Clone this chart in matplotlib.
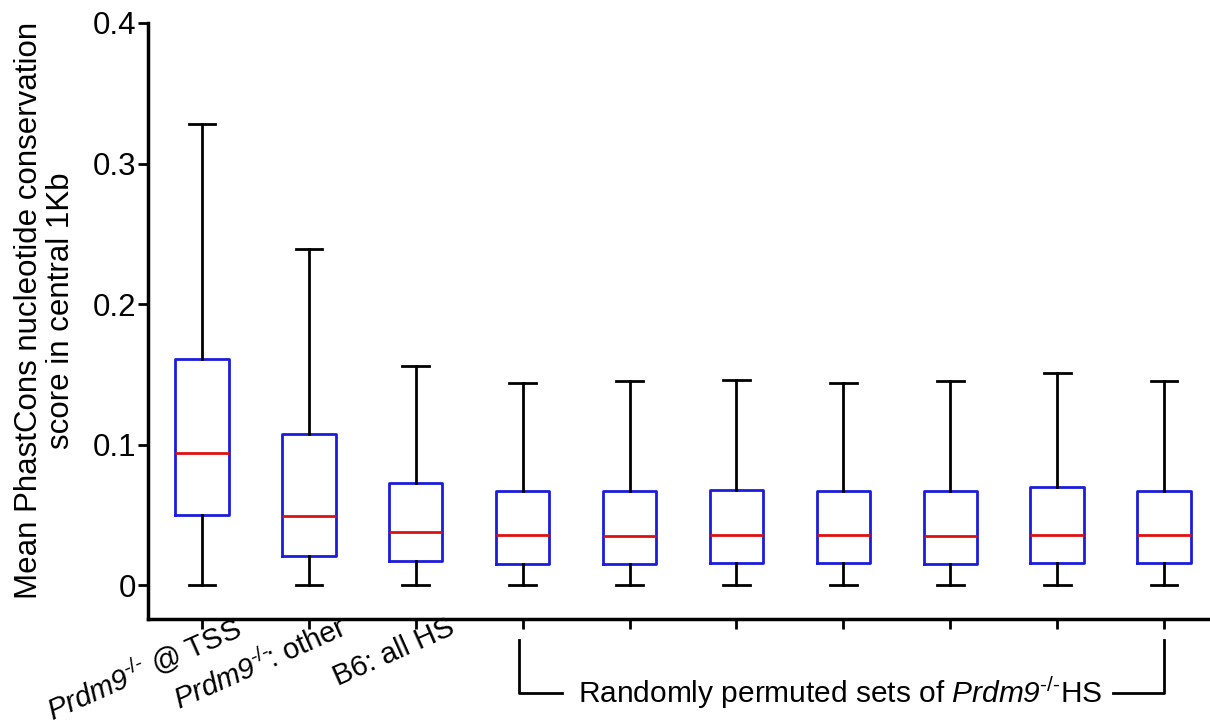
import numpy as np
import matplotlib
matplotlib.use('Agg')
import matplotlib.pyplot as plt
from matplotlib.transforms import ScaledTranslation

plt.rcParams['font.family'] = ['Liberation Sans', 'DejaVu Sans']
plt.rcParams['mathtext.fontset'] = 'custom'
plt.rcParams['mathtext.rm'] = 'Liberation Sans'
plt.rcParams['mathtext.it'] = 'Liberation Sans:italic'
plt.rcParams['mathtext.sf'] = 'Liberation Sans:italic'

# box statistics
labels = [r'$\mathsf{Prdm9}^{\text{-/-}}$ @ TSS', r'$\mathsf{Prdm9}^{\text{-/-}}\!$: other', 'B6: all HS']
whislo = [0, 0, 0, 0, 0, 0, 0, 0, 0, 0]
q1 = [0.050, 0.0206, 0.017, 0.0155, 0.0155, 0.016, 0.0157, 0.0155, 0.0157, 0.0157]
med = [0.0945, 0.0497, 0.0377, 0.0357, 0.035, 0.0357, 0.0355, 0.035, 0.036, 0.0355]
q3 = [0.161, 0.108, 0.0725, 0.067, 0.067, 0.068, 0.067, 0.067, 0.070, 0.067]
whishi = [0.328, 0.239, 0.156, 0.144, 0.145, 0.146, 0.144, 0.145, 0.151, 0.145]
yticks = [0, 0.1, 0.2, 0.3, 0.4]
ytick_labels = ['0', '0.1', '0.2', '0.3', '0.4']
bracket_text = r'Randomly permuted sets of $\mathsf{Prdm9}^{\text{-/-}}$HS'

stats = []
for i in range(len(med)):
    stats.append(dict(whislo=whislo[i], q1=q1[i], med=med[i], q3=q3[i],
                      whishi=whishi[i], fliers=[]))

fig = plt.figure(figsize=(12.1, 7.25), dpi=100)
ax = fig.add_axes([0.1223, 0.146, 0.8777, 0.8224])

pos = np.arange(1, len(stats) + 1)
ax.bxp(stats, positions=pos, widths=0.5, showfliers=False,
       boxprops=dict(color='#1c1cdc', linewidth=2),
       medianprops=dict(color='#e01010', linewidth=2),
       whiskerprops=dict(color='black', linewidth=2),
       capprops=dict(color='black', linewidth=2))

ax.set_xlim(0.495, 10.43)
ax.set_ylim(-0.024, 0.4)
ax.spines['top'].set_visible(False)
ax.spines['right'].set_visible(False)
ax.spines['left'].set_linewidth(2.5)
ax.spines['bottom'].set_linewidth(2.5)
ax.spines['left'].set_bounds(-0.024, 0.4)

ax.set_yticks(yticks)
ax.set_yticklabels(ytick_labels, fontsize=22.5)
ax.set_xticks(pos)
ax.set_xticklabels([])
ax.tick_params(axis='both', direction='out', length=7.5, width=2)
ax.tick_params(axis='y', pad=1)

ax.set_ylabel('Mean PhastCons nucleotide conservation\nscore in central 1Kb',
              fontsize=22.5, labelpad=12, linespacing=1.1)
ax.yaxis.label.set_y(0.518)

# rotated labels for the first three boxes
xt = ax.get_xaxis_transform()
for p, lab in zip(pos[:3], labels):
    off = ScaledTranslation(0.37, -0.07, fig.dpi_scale_trans)
    ax.text(p, 0, lab, transform=xt + off, rotation=24, rotation_mode='anchor',
            ha='right', va='center', fontsize=21)

# bracket under the permuted sets
y_top, y_bot = -0.035, -0.124
ax.plot([pos[3] - 0.03, pos[3] - 0.03, pos[3] + 0.37], [y_top, y_bot, y_bot],
        color='black', lw=2, transform=xt, clip_on=False)
ax.plot([pos[-1] - 0.48, pos[-1], pos[-1]], [y_bot, y_bot, y_top],
        color='black', lw=2, transform=xt, clip_on=False)
ax.text(pos[3] + 0.52, y_bot, bracket_text, transform=xt,
        ha='left', va='center', fontsize=21.5)

fig.savefig('out.png', dpi=100)
